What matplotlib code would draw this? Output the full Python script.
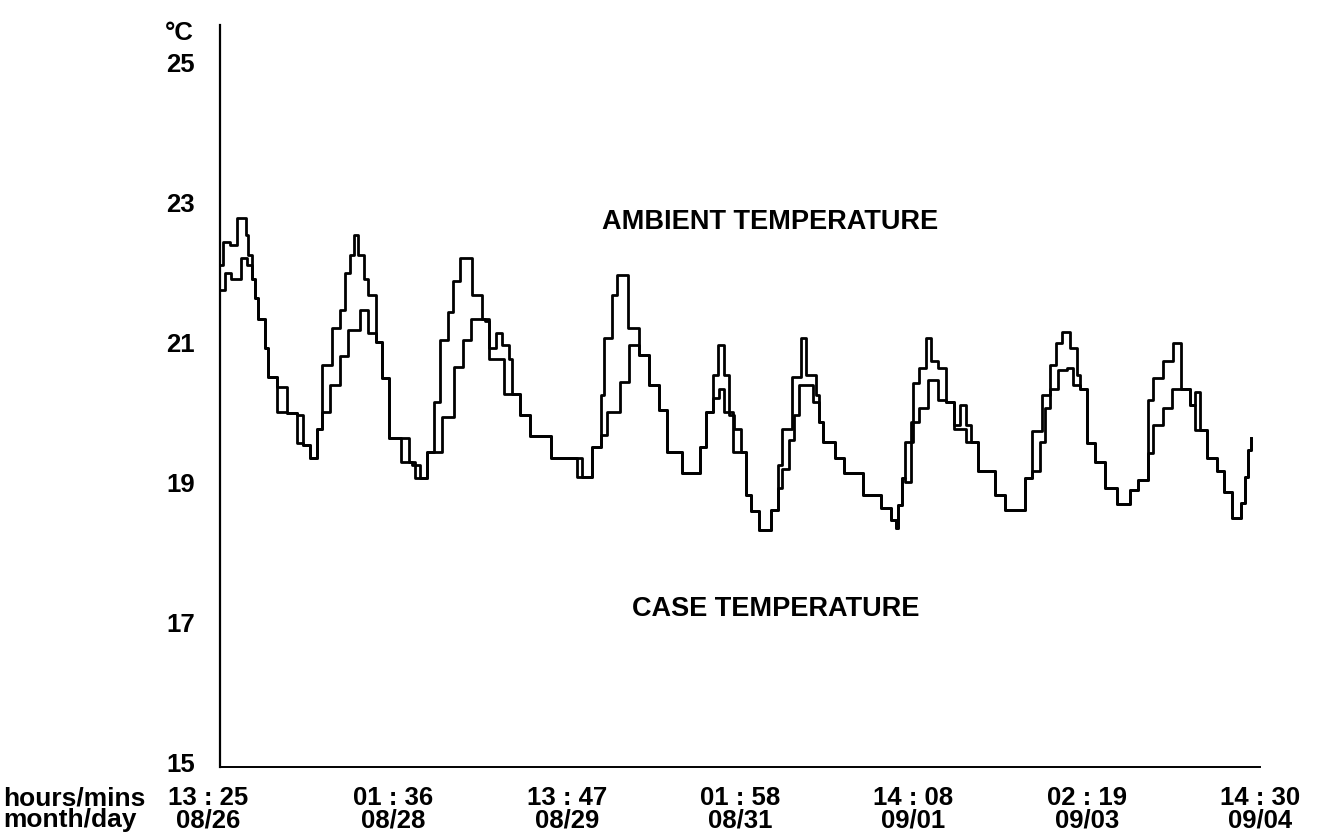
import matplotlib.pyplot as plt
from matplotlib.transforms import ScaledTranslation

plt.rcParams['font.family'] = ['Liberation Sans', 'DejaVu Sans']

# hours since 13:25 08/26, temperature in deg C (step changes)
ambient_h = [0, 0.7, 2.1, 3.5, 5.4, 5.9, 6.6, 7.3, 8.0, 9.4, 10.1, 11.8, 13.9, 16.0, 17.4,
             18.8, 20.2, 21.4, 23.3, 25.1, 26.1, 27.2, 27.9, 28.8, 30.0, 31.0, 32.5, 33.8,
             35.2, 39.4, 40.1, 41.8, 43.2, 44.7, 46.0, 47.7, 48.6, 50.2, 52.6, 54.7, 56.1,
             57.7, 58.9, 60.3, 61.0, 62.7, 64.8, 69.0, 75.6, 77.7, 79.5, 80.1, 81.9, 82.9,
             85.2, 87.5, 89.6, 91.7, 93.4, 96.5, 100.2, 101.4, 103.0, 103.9, 105.2, 106.3,
             107.3, 108.7, 109.8, 110.8, 112.6, 115.0, 116.4, 117.4, 119.5, 121.3, 122.3,
             124.4, 125.1, 125.8, 128.3, 130.3, 134.2, 138.0, 140.1, 141.2, 141.5, 142.3,
             143.0, 144.6, 146.0, 147.4, 148.5, 149.9, 151.6, 153.3, 154.4, 155.8, 156.8,
             158.2, 161.7, 163.8, 168.0, 169.4, 171.5, 173.2, 174.6, 175.7, 177.4, 178.8,
             179.5, 180.9, 182.6, 184.7, 187.2, 190.0, 191.7, 193.8, 194.8, 196.9, 199.0,
             200.7, 202.5, 203.5, 204.6, 206.0, 208.1, 209.5, 211.2, 213.2, 213.9, 214.6,
             215.3]
ambient_t = [22.10, 22.44, 22.39, 22.77, 22.53, 22.25, 21.91, 21.63, 21.34, 20.92, 20.51,
             20.37, 19.99, 19.96, 19.54, 19.35, 19.77, 20.68, 21.20, 21.46, 21.99, 22.25,
             22.53, 22.25, 21.91, 21.68, 21.01, 20.49, 19.63, 19.30, 19.25, 19.06, 19.44,
             20.15, 21.03, 21.44, 21.87, 22.20, 21.68, 21.34, 20.92, 21.13, 20.96, 20.77,
             20.27, 19.96, 19.66, 19.35, 19.08, 19.51, 20.25, 21.06, 21.68, 21.96, 21.20,
             20.82, 20.39, 20.04, 19.44, 19.13, 19.51, 20.01, 20.53, 20.96, 20.53, 19.96,
             19.77, 19.44, 18.82, 18.59, 18.32, 18.61, 19.25, 19.77, 20.51, 21.06, 20.53,
             20.25, 19.87, 19.58, 19.35, 19.13, 18.82, 18.63, 18.47, 18.35, 18.68, 19.06,
             19.58, 20.42, 20.63, 21.06, 20.73, 20.63, 20.15, 19.82, 20.11, 19.82, 19.58,
             19.16, 18.82, 18.61, 19.06, 19.73, 20.25, 20.68, 20.99, 21.15, 20.92, 20.53,
             20.34, 19.56, 19.30, 18.92, 18.70, 18.90, 19.04, 20.18, 20.49, 20.73, 20.99,
             20.34, 20.11, 20.29, 19.75, 19.35, 19.16, 18.87, 18.49, 18.71, 19.08, 19.47,
             19.64]

case_h = [0, 1.0, 2.4, 4.4, 5.6, 6.6, 7.3, 8.0, 9.4, 10.1, 11.8, 13.9, 16.0, 17.4, 18.8,
          20.2, 21.4, 23.0, 25.1, 26.8, 29.3, 31.0, 32.5, 33.8, 35.2, 37.8, 40.8, 43.2,
          46.3, 48.8, 50.7, 52.3, 55.4, 56.1, 59.2, 62.7, 64.8, 69.0, 74.6, 77.7, 79.5,
          80.8, 83.6, 85.4, 87.5, 89.6, 91.7, 93.4, 96.5, 100.2, 101.4, 103.0, 104.2,
          105.2, 107.0, 109.8, 110.8, 112.6, 115.0, 116.4, 117.4, 118.8, 119.9, 120.9,
          123.7, 125.1, 125.8, 128.3, 130.3, 134.2, 138.0, 140.1, 141.2, 141.5, 142.3,
          143.0, 144.3, 146.0, 147.8, 149.9, 151.6, 153.3, 155.8, 158.2, 161.7, 163.8,
          168.0, 169.4, 171.1, 172.2, 173.2, 175.0, 176.7, 178.1, 179.5, 180.9, 182.6,
          184.7, 187.2, 190.0, 191.7, 193.8, 194.8, 196.9, 198.7, 200.7, 202.5, 203.5,
          206.0, 208.1, 209.5, 211.2, 213.2, 213.9, 214.6, 215.3]
case_t = [21.75, 21.99, 21.91, 22.20, 22.10, 21.91, 21.63, 21.34, 20.92, 20.51, 20.01,
          19.99, 19.56, 19.54, 19.35, 19.77, 20.01, 20.39, 20.80, 21.18, 21.46, 21.13,
          21.01, 20.49, 19.63, 19.30, 19.06, 19.44, 19.94, 20.65, 21.03, 21.34, 21.30,
          20.77, 20.27, 19.96, 19.66, 19.35, 19.08, 19.51, 19.68, 20.01, 20.44, 20.96,
          20.82, 20.39, 20.04, 19.44, 19.13, 19.51, 20.01, 20.20, 20.34, 20.01, 19.44,
          18.82, 18.59, 18.32, 18.61, 18.92, 19.20, 19.61, 19.96, 20.39, 20.15, 19.87,
          19.58, 19.35, 19.13, 18.82, 18.63, 18.47, 18.35, 18.68, 19.06, 19.01, 19.87,
          20.06, 20.46, 20.18, 20.15, 19.77, 19.58, 19.16, 18.82, 18.61, 19.06, 19.16,
          19.58, 20.06, 20.34, 20.61, 20.63, 20.39, 20.34, 19.56, 19.30, 18.92, 18.70,
          18.90, 19.04, 19.42, 19.82, 20.06, 20.34, 20.34, 20.11, 19.75, 19.35, 19.16,
          18.87, 18.49, 18.71, 19.08, 19.47, 19.64]

tick_hours = [0, 36.18, 72.37, 108.55, 144.72, 180.9, 217.08]
tick_times = ['13 : 25', '01 : 36', '13 : 47', '01 : 58', '14 : 08', '02 : 19', '14 : 30']
tick_dates = ['08/26', '08/28', '08/29', '08/31', '09/01', '09/03', '09/04']
y_ticks = [15, 17, 19, 21, 23, 25]

fs = 18.5
fig = plt.figure(figsize=(13.34, 8.39), dpi=100)
ax = fig.add_axes([0.1649, 0.0858, 0.7796, 0.8844])

ax.plot(ambient_h, ambient_t, drawstyle='steps-post', color='black', lw=2.0)
ax.plot(case_h, case_t, drawstyle='steps-post', color='black', lw=2.0)

ax.set_xlim(0, 217.08)
ax.set_ylim(14.94, 25.53)

ax.spines['top'].set_visible(False)
ax.spines['right'].set_visible(False)
ax.spines['left'].set_linewidth(1.6)
ax.spines['bottom'].set_linewidth(1.4)

ax.set_yticks(y_ticks)
ax.set_yticklabels([str(v) for v in y_ticks], fontsize=fs, fontweight='bold')
ax.set_xticks(tick_hours)
ax.set_xticklabels([t + '\n' + d for t, d in zip(tick_times, tick_dates)],
                   fontsize=fs, fontweight='bold', linespacing=0.92)
ax.tick_params(axis='y', length=0, pad=18)
ax.tick_params(axis='x', length=0, pad=14)

# first date label sits a little left of the axis origin in the original
first = ax.get_xticklabels()[0]
first.set_transform(first.get_transform() + ScaledTranslation(-0.12, 0, fig.dpi_scale_trans))

ax.text(114.8, 22.72, 'AMBIENT TEMPERATURE', ha='center', va='center',
        fontsize=19.5, fontweight='bold')
ax.text(115.9, 17.20, 'CASE TEMPERATURE', ha='center', va='center',
        fontsize=19.5, fontweight='bold')

fig.text(194 / 1334, 1 - 33 / 839, '°C', ha='right', va='center', fontsize=fs, fontweight='bold')
fig.text(3 / 1334, 1 - 786 / 839, 'hours/mins\nmonth/day', ha='left', va='top',
         fontsize=19, fontweight='bold', linespacing=0.92)

fig.savefig('out.png', dpi=100)
